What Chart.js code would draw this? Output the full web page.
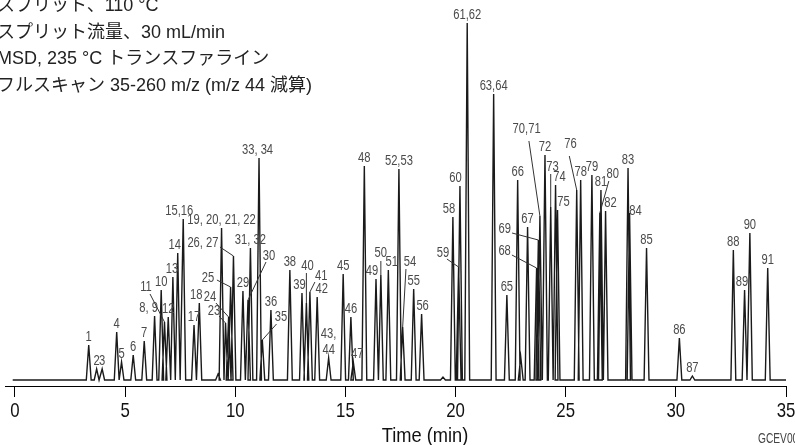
<!DOCTYPE html>
<html>
<head>
<meta charset="utf-8">
<script src="https://cdn.jsdelivr.net/npm/chart.js@4.4.1/dist/chart.umd.min.js"></script>
<style>
    html, body { margin: 0; padding: 0; background: #fff; }
    #wrap { width: 795px; height: 445px; position: relative; }
</style>
</head>
<body>
<div id="wrap"><canvas id="chromatogram"></canvas></div>
<script>
// Peak table (retention time in min, height in abundance units)
const peakLabels = ['1', '2', '3', '4', '5', '6', '7', '8, 9', '10', '11', '12', '13', '14', '15,16',
    '17', '18', '', '19, 20, 21, 22', '23', '24', '25', '26, 27', '29', '30', '31, 32', '33, 34', '35',
    '36', '38', '39', '40', '41', '42', '43,\n44', '45', '46', '47', '48', '49', '50', '51', '52,53',
    '54', '55', '56', '', '58', '59', '60', '61,62', '63,64', '65', '66', '', '67', '68', '69', '70,71',
    '72', '73', '74', '75', '76', '78', '79', '80', '81', '82', '83', '84', '85', '86', '87', '88',
    '89', '90', '91'];
const peakTimes = [3.35, 3.71, 3.96, 4.62, 4.84, 5.37, 5.87, 6.34, 6.64, 6.79, 6.96, 7.17, 7.39, 7.64,
    8.13, 8.37, 9.22, 9.38, 9.56, 9.70, 9.79, 9.92, 10.35, 10.58, 10.69, 11.08, 11.23,
    11.62, 12.48, 13.03, 13.23, 13.39, 13.72, 14.24, 14.90, 15.25, 15.36, 15.86, 16.39, 16.61, 16.95, 17.43,
    17.60, 18.10, 18.46, 19.43, 19.88, 20.14, 20.20, 20.53, 21.73, 22.33, 22.82, 22.96, 23.27, 23.68, 23.76, 23.83,
    24.06, 24.32, 24.54, 24.63, 25.50, 25.68, 26.19, 26.55, 26.60, 26.81, 27.83, 27.90, 28.67, 30.16, 30.75, 32.61,
    33.12, 33.36, 34.17];
const peakHeights = [35, 11, 11, 48, 18, 25, 39, 64, 90, 58, 63, 103, 127, 161,
    55, 77, 6, 152, 57, 63, 93, 124, 89, 80, 132, 222, 40,
    70, 110, 87, 77, 88, 83, 22, 106, 63, 18, 214, 101, 105, 110, 211,
    53, 91, 66, 3, 163, 113, 194, 357, 286, 85, 200, 23, 153, 112, 140, 164,
    225, 173, 195, 170, 190, 200, 205, 167, 190, 169, 212, 167, 132, 42, 4, 130,
    90, 147, 112];

const xTicks = [0, 5, 10, 15, 20, 25, 30, 35];
const xTitle = 'Time (min)';
const figureCode = 'GCEV00';
const noteLines = [
    'スプリット、110 °C',
    'スプリット流量、30 mL/min',
    'MSD, 235 °C トランスファライン',
    'フルスキャン 35-260 m/z (m/z 44 減算)'
];

const sans = "'Liberation Sans', Arial, 'Noto Sans CJK JP', sans-serif";

// Label placement, offsets in px from the peak apex; l = leader line start
const labelPlacement = {
    '8, 9': { dx: -6 }, '13': { dx: -1 }, '14': { dx: -3 }, '15,16': { dx: -4 }, '18': { dx: -3 },
    '33, 34': { dx: -1.5 }, '39': { dx: -2.5 }, '42': { dx: 4.5 }, '47': { dx: 4 }, '49': { dx: -4 },
    '51': { dx: 3.5 }, '56': { dx: 1 }, '58': { dx: -4 }, '60': { dx: -4.5 }, '74': { dx: 4 },
    '75': { dx: 6 }, '82': { dx: 5 }, '89': { dx: -2.5 }, '84': { dx: 6, dy: -2 },
    '11': { dx: -18.5, dy: -35, l: [-14.5, -28] },
    '23': { dx: -11.5, dy: -12, l: [-6.5, -7] },
    '24': { dx: -18.7, dy: -20, l: [-12.7, -14] },
    '25': { dx: -22.7, dy: -9, l: [-13.7, -7] },
    '26, 27': { dx: -30.5, dy: -13, l: [-13.5, -9] },
    '30': { dx: 21, dy: -44, l: [18, -38] },
    '35': { dx: 18.7, dy: -23, l: [14.2, -16] },
    '40': { dx: 1, dy: -37, l: [0, -30] },
    '41': { dx: 11.3, dy: -16, l: [5, -10] },
    '50': { dx: 0, dy: -22, l: [0, -14] },
    '54': { dx: 7.3, dy: -65, l: [3.3, -58] },
    '59': { dx: -15.7, dy: -14, l: [-11.7, -8] },
    '68': { dx: -32, dy: -17, l: [-24.7, -13] },
    '69': { dx: -33.6, dy: -11, l: [-26.3, -7] },
    '70,71': { dx: -13.3, dy: -87, l: [-11, -75] },
    '73': { dx: 1.8, dy: -40, l: [0, -33] },
    '76': { dx: -6.2, dy: -46, l: [-7.4, -34] },
    '80': { dx: 13, dy: -39, l: [9, -32] }
};

// Condensed look: squeeze a normal sans horizontally
function narrowText(ctx, text, x, y, size, squeeze) {
    ctx.save();
    ctx.translate(x, y);
    ctx.scale(squeeze, 1);
    ctx.font = size + 'px ' + sans;
    ctx.fillText(text, 0, 0);
    ctx.restore();
}

document.addEventListener('DOMContentLoaded', function() {
    const halfWidth = 0.11;

    // Build the trace: flat baseline with a narrow peak at each retention time
    const trace = [{ x: -0.1, y: 0 }];
    peakTimes.forEach((t, i) => {
        trace.push({ x: t - halfWidth, y: 0 });
        trace.push({ x: t, y: peakHeights[i] });
        trace.push({ x: t + halfWidth, y: 0 });
    });
    trace.push({ x: 35, y: 0 });

    const peakLabelPlugin = {
        id: 'peakLabels',
        afterDatasetsDraw(chart) {
            const ctx = chart.ctx;
            const xs = chart.scales.x;
            const ys = chart.scales.y;
            ctx.save();
            ctx.fillStyle = '#4a4a4a';
            ctx.strokeStyle = '#333';
            ctx.lineWidth = 1;
            ctx.textAlign = 'center';
            ctx.textBaseline = 'middle';
            peakLabels.forEach((label, i) => {
                if (!label) return;
                const px = xs.getPixelForValue(peakTimes[i]);
                const py = ys.getPixelForValue(peakHeights[i]);
                const p = labelPlacement[label] || {};
                const dx = p.dx || 0;
                const dy = p.dy !== undefined ? p.dy : -8;
                if (p.l) {
                    ctx.beginPath();
                    ctx.moveTo(px + p.l[0], py + p.l[1]);
                    ctx.lineTo(px, py);
                    ctx.stroke();
                }
                const lines = label.split('\n');
                lines.forEach((line, k) => {
                    narrowText(ctx, line, px + dx, py + dy - (lines.length - 1 - k) * 16, 14, 0.8);
                });
            });
            ctx.restore();
        }
    };

    // Tick labels, axis title, method notes
    const textPlugin = {
        id: 'texts',
        afterDraw(chart) {
            const ctx = chart.ctx;
            const xs = chart.scales.x;
            ctx.save();
            ctx.fillStyle = '#111';
            ctx.textAlign = 'center';
            ctx.textBaseline = 'alphabetic';
            xTicks.forEach(v => {
                narrowText(ctx, String(v), xs.getPixelForValue(v), 417, 21, 0.8);
            });
            narrowText(ctx, xTitle, 425, 442, 21, 0.87);

            ctx.textAlign = 'left';
            ctx.fillStyle = '#444';
            narrowText(ctx, figureCode, 758, 443, 15, 0.68);

            ctx.fillStyle = '#222';
            ctx.font = '18px ' + sans;
            noteLines.forEach((line, i) => {
                ctx.fillText(line, -3, 11 + i * 26.5);
            });
            ctx.restore();
        }
    };

    new Chart(document.getElementById('chromatogram'), {
        type: 'line',
        data: {
            datasets: [{
                data: trace,
                borderColor: '#1a1a1a',
                borderWidth: 1.4,
                pointRadius: 0,
                tension: 0,
                fill: false
            }]
        },
        options: {
            responsive: true,
            maintainAspectRatio: false,
            animation: false,
            layout: { padding: { left: 5, right: 9, top: 16, bottom: 0 } },
            plugins: {
                legend: { display: false },
                tooltip: { enabled: false }
            },
            scales: {
                x: {
                    type: 'linear',
                    min: -0.45,
                    max: 35,
                    afterBuildTicks: function(scale) {
                        scale.ticks = xTicks.map(v => ({ value: v }));
                    },
                    afterFit: function(scale) {
                        scale.paddingLeft = 0;
                        scale.paddingRight = 0;
                        scale.height = 59;
                    },
                    grid: {
                        drawOnChartArea: false,
                        drawTicks: true,
                        tickLength: 11,
                        color: '#000',
                        lineWidth: 1
                    },
                    border: { display: true, color: '#000', width: 1 },
                    ticks: { display: false, autoSkip: false },
                    title: { display: false }
                },
                y: {
                    display: false,
                    min: -6,
                    max: 364
                }
            }
        },
        plugins: [peakLabelPlugin, textPlugin]
    });
});
</script>
</body>
</html>
